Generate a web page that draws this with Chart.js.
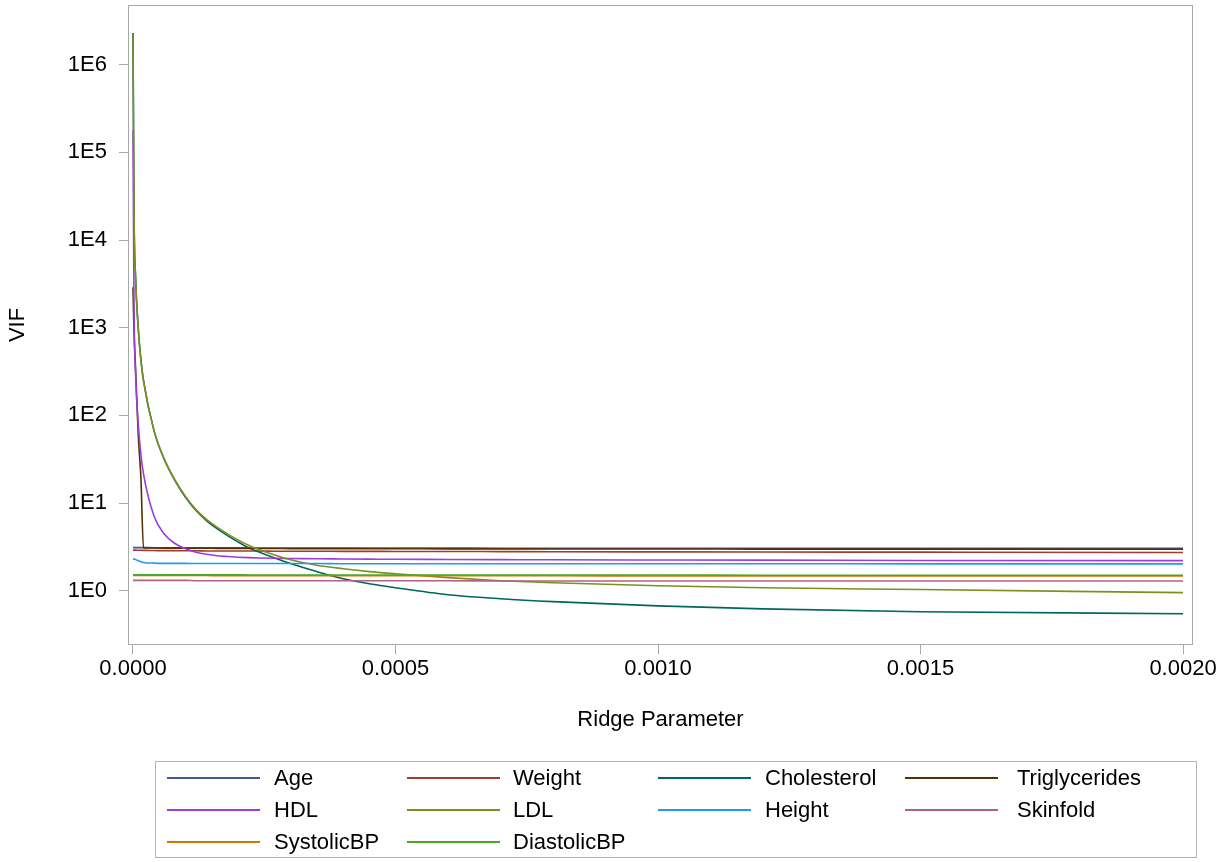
<!DOCTYPE html>
<html>
<head>
<meta charset="utf-8">
<title>VIF by Ridge Parameter</title>
<script src="https://cdn.jsdelivr.net/npm/chart.js@4.4.0/dist/chart.umd.min.js"></script>
<style>
  html, body { margin: 0; padding: 0; background: #fff; }
  #wrap { position: relative; width: 1228px; height: 862px; background: #fff; }
  #vifChart { position: absolute; left: 0; top: 0; }
  #legendBox { position: absolute; left: 155px; top: 761px; width: 1042px; height: 97px;
    border: 1px solid #b4b4b4; box-sizing: border-box; }
  .swatch { position: absolute; width: 93px; height: 0; border-top: 2px solid; }
  .lbl { position: absolute; font-family: "Liberation Sans", Arial, sans-serif; font-size: 22px;
    line-height: 26px; color: #000; white-space: nowrap; }
</style>
</head>
<body>
<div id="wrap">
  <canvas id="vifChart" width="1228" height="862"></canvas>
  <div id="legendBox"></div>
</div>
<script>
// ridge parameter values (k) the VIFs were read at
var ridge = [0, 0.000002, 0.000005, 0.00001, 0.000015, 0.00002, 0.00004, 0.00006, 0.00008, 0.0001,
  0.00012, 0.00014, 0.00016, 0.00018, 0.0002, 0.00022, 0.00024, 0.00027, 0.0003, 0.00035,
  0.0004, 0.00045, 0.0005, 0.0006, 0.0007, 0.0008, 0.001, 0.0012, 0.0015, 0.002];

var age = [3.1, 3.1, 3.1, 3.1, 3.1, 3.1, 3.09, 3.09, 3.09, 3.09,
  3.08, 3.08, 3.08, 3.08, 3.08, 3.07, 3.07, 3.07, 3.07, 3.07,
  3.06, 3.06, 3.06, 3.06, 3.05, 3.05, 3.05, 3.04, 3.04, 3.04];
var weight = [2.9, 2.9, 2.9, 2.89, 2.89, 2.88, 2.87, 2.86, 2.86, 2.85,
  2.85, 2.84, 2.84, 2.84, 2.83, 2.83, 2.83, 2.82, 2.82, 2.82,
  2.81, 2.81, 2.8, 2.8, 2.79, 2.78, 2.77, 2.76, 2.75, 2.73];
var cholesterol = [2300000, 21000, 3700, 1000, 440, 250, 67, 31, 18, 11.6,
  8.2, 6.3, 5.1, 4.25, 3.6, 3.1, 2.76, 2.36, 2.04, 1.65,
  1.37, 1.2, 1.08, 0.9, 0.81, 0.75, 0.67, 0.62, 0.575, 0.546];
var triglycerides = [2900, 900, 330, 60, 20, 3.08, 3.07, 3.06, 3.06, 3.05,
  3.05, 3.05, 3.04, 3.04, 3.04, 3.03, 3.03, 3.03, 3.02, 3.02,
  3.02, 3.01, 3.01, 3.0, 3.0, 2.99, 2.99, 2.98, 2.98, 2.97];
var hdl = [180000, 1640, 290, 80, 36, 21.5, 7.1, 4.4, 3.45, 3.0,
  2.75, 2.6, 2.5, 2.45, 2.41, 2.38, 2.36, 2.34, 2.33, 2.31,
  2.3, 2.29, 2.28, 2.27, 2.26, 2.25, 2.24, 2.23, 2.21, 2.2];
var ldl = [2200000, 20000, 3600, 980, 435, 248, 67, 31.5, 18.3, 11.9,
  8.4, 6.5, 5.3, 4.45, 3.8, 3.3, 2.95, 2.55, 2.25, 1.95,
  1.78, 1.65, 1.56, 1.41, 1.3, 1.23, 1.14, 1.08, 1.03, 0.95];
var height = [2.32, 2.3, 2.26, 2.2, 2.14, 2.1, 2.06, 2.05, 2.05, 2.05,
  2.04, 2.04, 2.04, 2.04, 2.04, 2.04, 2.04, 2.04, 2.04, 2.04,
  2.03, 2.03, 2.03, 2.03, 2.03, 2.03, 2.03, 2.03, 2.02, 2.02];
var skinfold = [1.31, 1.31, 1.31, 1.31, 1.31, 1.31, 1.31, 1.31, 1.31, 1.31,
  1.3, 1.3, 1.3, 1.3, 1.3, 1.3, 1.3, 1.3, 1.3, 1.3,
  1.3, 1.3, 1.3, 1.3, 1.29, 1.29, 1.29, 1.29, 1.29, 1.29];
var systolicBP = [1.49, 1.49, 1.49, 1.49, 1.49, 1.49, 1.49, 1.49, 1.49, 1.49,
  1.49, 1.49, 1.48, 1.48, 1.48, 1.48, 1.48, 1.48, 1.48, 1.48,
  1.48, 1.48, 1.48, 1.48, 1.48, 1.48, 1.47, 1.47, 1.47, 1.47];
var diastolicBP = [1.52, 1.52, 1.52, 1.52, 1.52, 1.52, 1.52, 1.52, 1.52, 1.52,
  1.52, 1.52, 1.52, 1.52, 1.52, 1.51, 1.51, 1.51, 1.51, 1.51,
  1.51, 1.51, 1.51, 1.51, 1.51, 1.51, 1.51, 1.5, 1.5, 1.5];

var names = ["Age", "Weight", "Cholesterol", "Triglycerides", "HDL", "LDL", "Height", "Skinfold", "SystolicBP", "DiastolicBP"];
var series = [age, weight, cholesterol, triglycerides, hdl, ldl, height, skinfold, systolicBP, diastolicBP];
var lineColors = ["#445694", "#A23A2E", "#01665E", "#543005", "#9D3CDB", "#7F8E1F", "#2597FA", "#B26084", "#D17800", "#47A82A"];

var xTicks = [0, 0.0005, 0.001, 0.0015, 0.002];
var yTicks = [1, 10, 100, 1000, 10000, 100000, 1000000];

var fontFamily = "'Liberation Sans', Arial, sans-serif";
Chart.defaults.font.family = fontFamily;

var frame = {
  id: "frame",
  afterDatasetsDraw(chart) {
    var a = chart.chartArea;
    var c = chart.ctx;
    c.save();
    c.strokeStyle = "#a8a8a8";
    c.lineWidth = 1;
    c.strokeRect(a.left + 0.5, a.top + 0.5, a.width - 1, a.height - 1);
    c.restore();
  }
};

// later variables are drawn on top, like the original plot
var datasets = series.map((vals, i) => ({
  label: names[i],
  data: ridge.map((k, j) => ({ x: k, y: vals[j] })),
  borderColor: lineColors[i],
  borderWidth: 1.6,
  pointRadius: 0,
  fill: false,
  cubicInterpolationMode: "monotone",
  order: names.length - i
}));

new Chart(document.getElementById("vifChart"), {
  type: "line",
  data: { datasets: datasets },
  plugins: [frame],
  options: {
    responsive: false,
    animation: false,
    layout: { padding: { top: 5, right: 35, bottom: 0, left: 0 } },
    plugins: { legend: { display: false }, tooltip: { enabled: false } },
    scales: {
      x: {
        type: "linear",
        min: -0.0000095,
        max: 0.002019,
        afterBuildTicks: s => { s.ticks = xTicks.map(v => ({ value: v })); },
        afterFit: s => { s.height = 217; s.paddingLeft = 0; s.paddingRight = 0; },
        ticks: {
          callback: v => v.toFixed(4),
          color: "#000",
          font: { size: 22 },
          padding: 2,
          maxRotation: 0,
          autoSkip: false
        },
        grid: { drawOnChartArea: false, drawTicks: true, tickLength: 9, color: "#a8a8a8" },
        border: { display: false },
        title: {
          display: true,
          text: "Ridge Parameter",
          color: "#000",
          font: { size: 22 },
          padding: { top: 0, bottom: 129 }
        }
      },
      y: {
        type: "logarithmic",
        min: 0.24,
        max: 4800000,
        afterBuildTicks: s => { s.ticks = yTicks.map(v => ({ value: v })); },
        afterFit: s => { s.width = 128; s.paddingTop = 0; s.paddingBottom = 0; },
        ticks: {
          callback: v => "1E" + Math.round(Math.log10(v)),
          color: "#000",
          font: { size: 22 },
          padding: 12,
          autoSkip: false
        },
        grid: { drawOnChartArea: false, drawTicks: true, tickLength: 9, color: "#a8a8a8" },
        border: { display: false },
        title: {
          display: true,
          text: "VIF",
          color: "#000",
          font: { size: 22 },
          padding: { top: 5, bottom: 0 }
        }
      }
    }
  }
});

// legend: 4 columns, filled row by row
var legendCols = [[167, 274], [407, 513], [658, 765], [905, 1017]];
var legendRows = [778, 810, 842];
var wrap = document.getElementById("wrap");
names.forEach((name, i) => {
  var col = legendCols[i % 4];
  var rowY = legendRows[Math.floor(i / 4)];
  var sw = document.createElement("div");
  sw.className = "swatch";
  sw.style.left = col[0] + "px";
  sw.style.top = (rowY - 1) + "px";
  sw.style.borderTopColor = lineColors[i];
  wrap.appendChild(sw);
  var lb = document.createElement("div");
  lb.className = "lbl";
  lb.style.left = col[1] + "px";
  lb.style.top = (rowY - 13) + "px";
  lb.textContent = name;
  wrap.appendChild(lb);
});
</script>
</body>
</html>
